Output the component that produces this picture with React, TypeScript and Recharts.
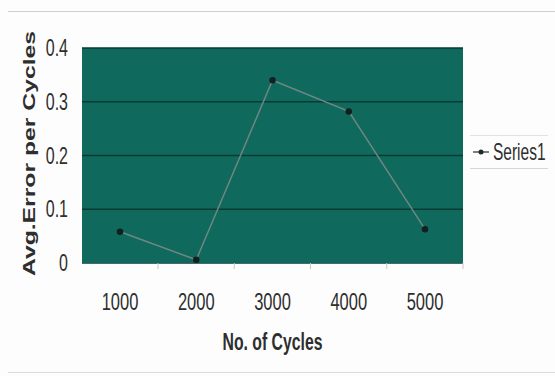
import { LineChart, Line, XAxis, YAxis, CartesianGrid, Legend, Label } from "recharts";

const cycles = ["1000", "2000", "3000", "4000", "5000"];
const series1 = [0.058, 0.006, 0.34, 0.282, 0.063];
const yTicks = [0, 0.1, 0.2, 0.3, 0.4];

const data = cycles.map((c, i) => ({ cycles: c, series1: series1[i] }));

const font = "'Liberation Sans', Arial, sans-serif";
const textColor = "#2e2e2e";
const halfBand = 38;

// the scan is stretched vertically, so text is drawn 1.5x taller than wide
const XTick = (props: any) => {
  const { x, y, payload } = props;
  return (
    <g>
      <line x1={x + halfBand} x2={x + halfBand} y1={y - 8} y2={y - 2} stroke="#c8c8c8" />
      <text
        transform={`translate(${x},${y + 39}) scale(1,1.5)`}
        textAnchor="middle"
        fontSize={16.5}
        fontFamily={font}
        fill={textColor}
      >
        {payload.value}
      </text>
    </g>
  );
};

const YTick = (props: any) => {
  const { x, y, payload } = props;
  return (
    <text
      transform={`translate(${x},${y + 8}) scale(1,1.5)`}
      textAnchor="end"
      fontSize={16}
      fontFamily={font}
      fill={textColor}
    >
      {payload.value}
    </text>
  );
};

const XTitle = ({ viewBox }: any) => (
  <text
    transform={`translate(${viewBox.x + viewBox.width / 2},${viewBox.y + 87}) scale(1,1.5)`}
    textAnchor="middle"
    fontSize={15.8}
    fontWeight="bold"
    fontFamily={font}
    fill={textColor}
  >
    No. of Cycles
  </text>
);

const YTitle = ({ viewBox }: any) => (
  <text
    transform={`translate(35,${viewBox.y + viewBox.height / 2 - 2}) rotate(-90) scale(1.5,1)`}
    textAnchor="middle"
    fontSize={16.5}
    fontWeight="bold"
    fontFamily={font}
    fill={textColor}
  >
    Avg.Error per Cycles
  </text>
);

const LegendBox = () => (
  <div
    style={{
      borderTop: "1px solid #e2e2e2",
      borderBottom: "1px solid #d6d6d6",
      height: 32,
      display: "flex",
      alignItems: "center",
      fontFamily: font,
      fontSize: 15.5,
      color: textColor,
    }}
  >
    <svg width={18} height={10} style={{ marginLeft: 2 }}>
      <line x1={1} y1={5} x2={17} y2={5} stroke="#555" strokeWidth={1.5} />
      <circle cx={9} cy={5} r={2.5} fill="#1d2b2b" />
    </svg>
    <span style={{ marginLeft: 3, display: "inline-block", transform: "scale(1,1.5)" }}>Series1</span>
  </div>
);

export default function App() {
  return (
    <div style={{ position: "absolute", left: 0, top: 0, width: 555, height: 376, background: "#fdfdfd" }}>
      <div style={{ position: "absolute", left: 8, right: 0, top: 11, borderTop: "1px solid #cfcfcf" }} />
      <div style={{ position: "absolute", left: 8, right: 0, top: 372, borderTop: "1px solid #dcdcdc" }} />
      <LineChart
        width={555}
        height={376}
        data={data}
        margin={{ top: 48, right: 92, bottom: 83, left: 0 }}
      >
        <CartesianGrid
          horizontal
          vertical={false}
          fill="#0f6a5d"
          fillOpacity={1}
          stroke="#0a3a33"
          strokeWidth={1.5}
        />
        <XAxis
          dataKey="cycles"
          height={30}
          padding={{ left: halfBand, right: halfBand }}
          tickLine={false}
          axisLine={{ stroke: "#2f7c70" }}
          tick={<XTick />}
          interval={0}
        >
          <Label content={<XTitle />} />
        </XAxis>
        <YAxis
          width={82}
          domain={[0, 0.4]}
          ticks={yTicks}
          tickLine={false}
          axisLine={false}
          tick={<YTick />}
          tickMargin={8}
        >
          <Label content={<YTitle />} />
        </YAxis>
        <Legend
          layout="vertical"
          align="center"
          verticalAlign="middle"
          content={<LegendBox />}
          wrapperStyle={{ left: 470, top: 135, width: 78 }}
        />
        <Line
          type="linear"
          dataKey="series1"
          name="Series1"
          stroke="#6f8782"
          strokeWidth={1.5}
          dot={{ r: 2.5, fill: "#14201f", stroke: "#14201f" }}
          isAnimationActive={false}
        />
      </LineChart>
    </div>
  );
}
